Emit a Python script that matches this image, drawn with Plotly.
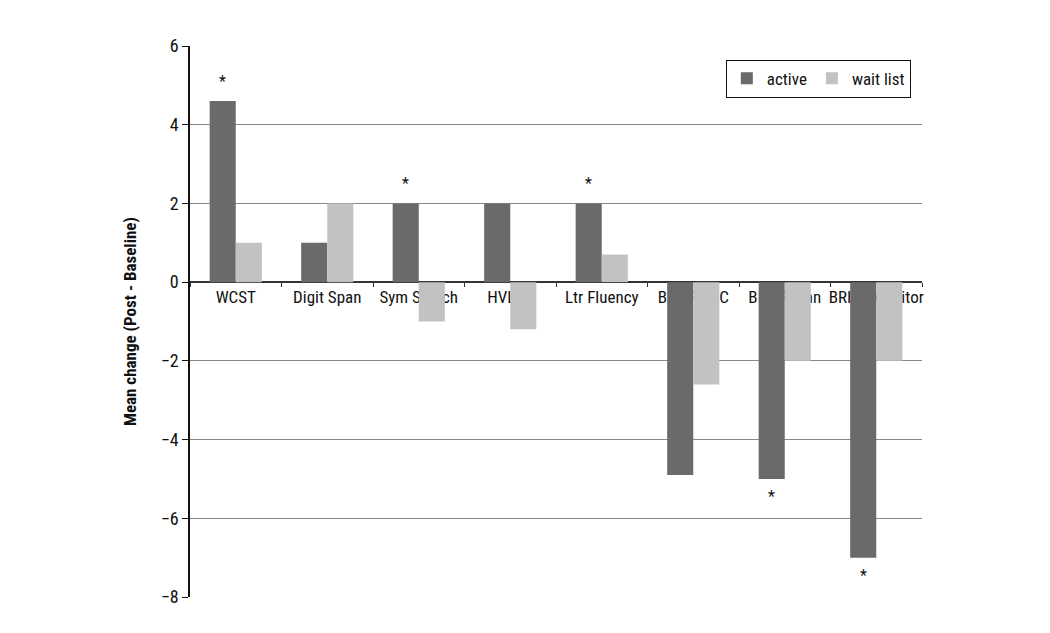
import plotly.graph_objects as go

categories = ["WCST", "Digit Span", "Sym Search", "HVLT-R", "Ltr Fluency",
              "BRIEF GEC", "BRIEF Plan", "BRIEF Monitor"]
active = [4.6, 1.0, 2.0, 2.0, 2.0, -4.9, -5.0, -7.0]
wait_list = [1.0, 2.0, -1.0, -1.2, 0.7, -2.6, -2.0, -2.0]
star_cats = ["WCST", "Sym Search", "Ltr Fluency", "BRIEF Plan", "BRIEF Monitor"]
y_ticks = [-8, -6, -4, -2, 0, 2, 4, 6]

FONT = "Liberation Sans Narrow, Arial Narrow, Roboto Condensed, Liberation Sans, sans-serif"
ymin, ymax = -8, 6

fig = go.Figure()
fig.add_trace(go.Bar(x=categories, y=active, name="active",
                     marker=dict(color="#6a6a6a", line=dict(width=0))))
fig.add_trace(go.Bar(x=categories, y=wait_list, name="wait list",
                     marker=dict(color="#c2c2c2", line=dict(width=0))))

bargap = 0.43
offset = (1 - bargap) / 4  # active bar center offset in category units
cat_px = 732 / len(categories)
for c in star_cats:
    v = active[categories.index(c)]
    fig.add_annotation(x=c, y=v, xref="x", yref="y", text="*", showarrow=False,
                       xshift=-offset * cat_px,
                       yanchor="bottom" if v > 0 else "top",
                       yshift=8 if v > 0 else -6,
                       font=dict(size=16, color="#111", family=FONT))

fig.update_layout(
    width=1050, height=633,
    margin=dict(l=182, r=136, t=38, b=44),
    paper_bgcolor="white", plot_bgcolor="white",
    barmode="group", bargap=bargap, bargroupgap=0,
    font=dict(family=FONT, size=17, color="#111"),
    showlegend=True,
    legend=dict(orientation="h", x=0.732, y=0.975, xanchor="left", yanchor="top",
                bordercolor="#111", borderwidth=1, bgcolor="white",
                font=dict(size=17, family=FONT), itemwidth=30,
                traceorder="normal"),
    xaxis=dict(type="category", anchor="free", position=(0 - ymin) / (ymax - ymin),
               showline=True, linecolor="#333", linewidth=1.5,
               ticks="outside", tickson="boundaries", ticklen=4, tickcolor="#333",
               showgrid=False, layer="below traces", tickangle=0, automargin=False,
               tickfont=dict(size=17, family=FONT)),
    yaxis=dict(range=[ymin, ymax], tickvals=y_ticks,
               ticktext=[("\u2212" + str(-t)) if t < 0 else str(t) for t in y_ticks],
               showline=True, linecolor="#111", linewidth=1.5,
               ticks="outside", ticklen=6, tickcolor="#111",
               showgrid=True, gridcolor="#888", gridwidth=1,
               zeroline=False, automargin=False,
               title=dict(text="<b>Mean change (Post - Baseline)</b>", standoff=20,
                          font=dict(size=17, family=FONT)),
               tickfont=dict(size=18, family=FONT)),
)

fig.write_html("out.html")
